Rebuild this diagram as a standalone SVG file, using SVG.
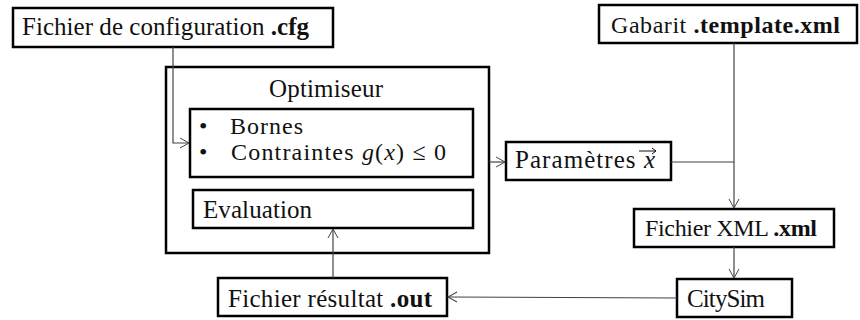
<svg xmlns="http://www.w3.org/2000/svg" width="860" height="320" viewBox="0 0 860 320">
<defs>
<marker id="arr" markerWidth="12" markerHeight="12" refX="10" refY="6" orient="auto" markerUnits="userSpaceOnUse">
<path d="M1,1 L10,6 L1,11" fill="none" stroke="#444" stroke-width="1"/>
</marker>
<style>
.box{fill:#fff;stroke:#000;stroke-width:2.5}
.t{font-family:"Liberation Serif","DejaVu Serif",serif;font-size:25px;fill:#111}
.s{font-size:24px}
.b{font-weight:bold}
.i{font-style:italic}
.c{fill:none;stroke:#444;stroke-width:1.2;marker-end:url(#arr)}
.l{fill:none;stroke:#444;stroke-width:1.2}
</style>
</defs>
<g id="config">
<rect class="box" x="13" y="8" width="320" height="39"/>
<text class="t" x="22" y="35" textLength="287" lengthAdjust="spacing">Fichier de configuration <tspan class="b">.cfg</tspan></text>
</g>
<g id="optimiseur">
<rect class="box" x="166" y="67" width="323" height="186"/>
<text class="t" x="269" y="97" textLength="114" lengthAdjust="spacing">Optimiseur</text>
</g>
<g id="bornes">
<rect class="box" x="190" y="109" width="283" height="68"/>
<text class="t s" x="199" y="134">•</text>
<text class="t s" x="230" y="134" textLength="73" lengthAdjust="spacing">Bornes</text>
<text class="t s" x="199" y="160">•</text>
<text class="t s" x="231" y="160" textLength="215" lengthAdjust="spacing">Contraintes <tspan class="i">g</tspan>(<tspan class="i">x</tspan>) ≤ 0</text>
</g>
<g id="evaluation">
<rect class="box" x="193" y="190" width="280" height="38"/>
<text class="t" x="203" y="218" textLength="109" lengthAdjust="spacing">Evaluation</text>
</g>
<g id="parametres">
<rect class="box" x="506" y="142" width="165" height="38"/>
<text class="t" x="515" y="168" textLength="140" lengthAdjust="spacing">Paramètres <tspan class="i">x</tspan></text>
<path d="M639,151 L656,151 M652,148 L656,151 L652,154" fill="none" stroke="#111" stroke-width="1"/>
</g>
<g id="gabarit">
<rect class="box" x="599" y="5" width="258" height="38"/>
<text class="t s" x="611" y="33" textLength="229" lengthAdjust="spacing">Gabarit <tspan class="b">.template.xml</tspan></text>
</g>
<g id="xml">
<rect class="box" x="634" y="209" width="200" height="38"/>
<text class="t s" x="645" y="236" textLength="172" lengthAdjust="spacing">Fichier XML <tspan class="b">.xml</tspan></text>
</g>
<g id="citysim">
<rect class="box" x="677" y="279" width="115" height="38"/>
<text class="t" x="687" y="307" textLength="78" lengthAdjust="spacing">CitySim</text>
</g>
<g id="resultat">
<rect class="box" x="218" y="278" width="229" height="38"/>
<text class="t" x="228" y="307" textLength="204" lengthAdjust="spacing">Fichier résultat <tspan class="b">.out</tspan></text>
</g>
<g id="connectors">
<path class="c" d="M173,47 L173,143 L189,143"/>
<path class="c" d="M489,162 L505,162"/>
<path class="l" d="M671,162 L734,162"/>
<path class="c" d="M734,43 L734,208"/>
<path class="c" d="M734,247 L734,278"/>
<path class="c" d="M677,298 L448,297"/>
<path class="c" d="M333,278 L333,229"/>
</g>
</svg>
